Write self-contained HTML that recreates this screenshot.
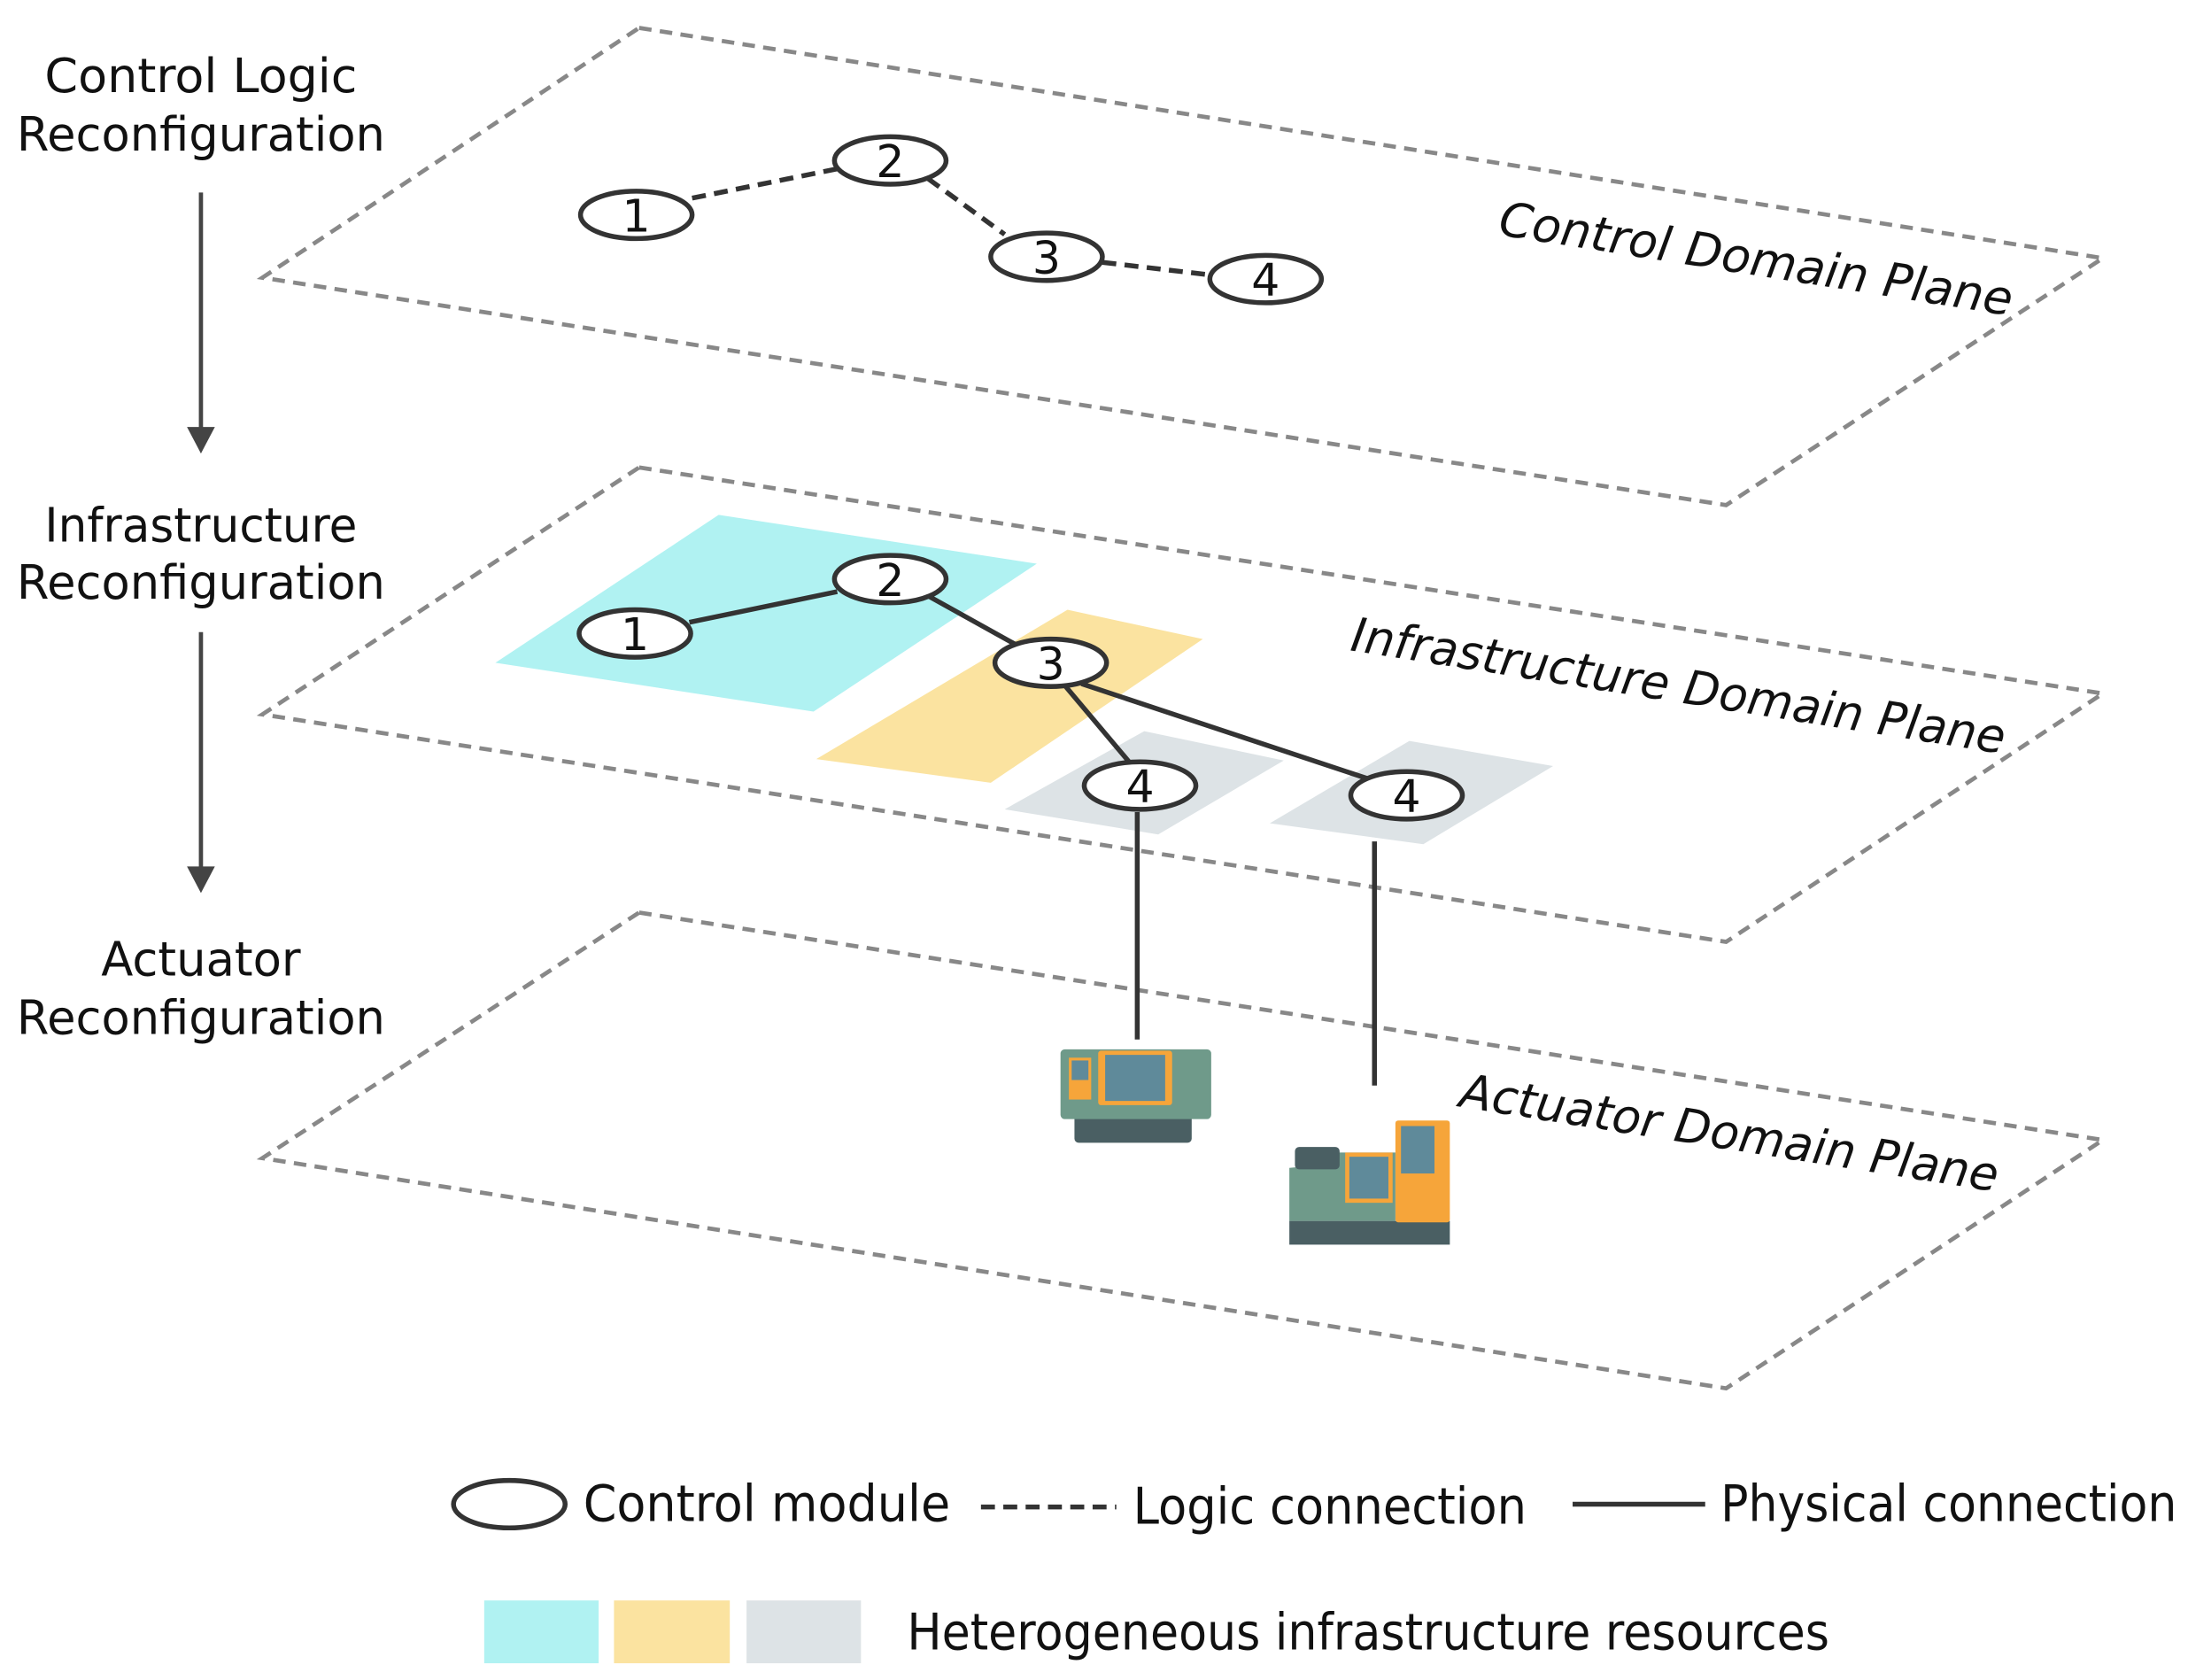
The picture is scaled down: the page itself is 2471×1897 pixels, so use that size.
<!DOCTYPE html>
<html><head><meta charset="utf-8"><style>
html,body{margin:0;padding:0;background:#fff;}
svg{display:block;}
text{font-family:"DejaVu Sans","Liberation Sans",sans-serif;fill:#111;}
</style></head><body>
<svg width="2471" height="1897" viewBox="0 0 1568 1204" preserveAspectRatio="none" xmlns="http://www.w3.org/2000/svg">
<g fill="none" stroke="#888" stroke-width="3" stroke-dasharray="9,6">
<polygon points="458,20 1507,185 1237,362 188,199"/>
<polygon points="458,335 1507,497 1237,675 188,512"/>
<polygon points="458,654 1507,817 1237,995 188,830"/>
</g>
<polygon points="515,369 743,404 583,510 355,475" fill="#b0f2f2"/>
<polygon points="765,437 862,458 710,561 585,544" fill="#fbe3a0"/>
<polygon points="820,524 920,545 830,598 720,580" fill="#dde3e6"/>
<polygon points="1010,531 1113,549 1020,605 910,590" fill="#dde3e6"/>
<g stroke="#333" stroke-width="3.5" fill="none">
<g stroke-dasharray="10,6">
<line x1="496" y1="142" x2="600" y2="121"/><line x1="665" y1="128" x2="720" y2="168"/><line x1="790" y1="188" x2="867" y2="197"/>
</g>
<line x1="494" y1="446" x2="600" y2="424"/><line x1="665" y1="427" x2="728" y2="462"/>
<line x1="762" y1="490" x2="810" y2="547"/><line x1="775" y1="490" x2="980" y2="558"/>
<line x1="815" y1="582" x2="815" y2="745"/><line x1="985" y1="603" x2="985" y2="778"/>
</g>
<g stroke="#333" stroke-width="3.5" fill="#fff">
<ellipse cx="456" cy="154" rx="40" ry="17"/><ellipse cx="638" cy="115" rx="40" ry="17"/>
<ellipse cx="750" cy="184" rx="40" ry="17"/><ellipse cx="907" cy="200" rx="40" ry="17"/>
<ellipse cx="455" cy="454" rx="40" ry="17"/><ellipse cx="638" cy="415" rx="40" ry="17"/>
<ellipse cx="753" cy="475" rx="40" ry="17"/><ellipse cx="817" cy="563" rx="40" ry="17"/>
<ellipse cx="1008" cy="570" rx="40" ry="17"/>
<ellipse cx="365" cy="1078" rx="40" ry="17"/>
</g>
<g font-size="32" text-anchor="middle">
<text x="456" y="166">1</text><text x="638" y="127">2</text><text x="750" y="196">3</text><text x="907" y="212">4</text>
<text x="455" y="466">1</text><text x="638" y="427">2</text><text x="753" y="487">3</text><text x="817" y="575">4</text><text x="1008" y="582">4</text>
</g>
<g font-size="34" text-anchor="middle" lengthAdjust="spacingAndGlyphs">
<text x="144" y="66" textLength="224" lengthAdjust="spacingAndGlyphs">Control Logic</text><text x="144" y="108" textLength="264" lengthAdjust="spacingAndGlyphs">Reconfiguration</text>
<text x="144" y="388" textLength="224" lengthAdjust="spacingAndGlyphs">Infrastructure</text><text x="144" y="429" textLength="264" lengthAdjust="spacingAndGlyphs">Reconfiguration</text>
<text x="144" y="699" textLength="143" lengthAdjust="spacingAndGlyphs">Actuator</text><text x="144" y="741" textLength="264" lengthAdjust="spacingAndGlyphs">Reconfiguration</text>
</g>
<g stroke="#444" stroke-width="3"><line x1="144" y1="138" x2="144" y2="310"/><line x1="144" y1="453" x2="144" y2="625"/></g>
<g fill="#444"><polygon points="134,306 154,306 144,325"/><polygon points="134,621 154,621 144,640"/></g>
<g font-size="34" font-style="italic">
<text x="1073" y="168" transform="rotate(9 1073 168)" textLength="372" lengthAdjust="spacingAndGlyphs">Control Domain Plane</text>
<text x="967" y="466" transform="rotate(9 967 466)" textLength="474" lengthAdjust="spacingAndGlyphs">Infrastructure Domain Plane</text>
<text x="1045" y="793" transform="rotate(9 1045 793)" textLength="390" lengthAdjust="spacingAndGlyphs">Actuator Domain Plane</text>
</g>
<!-- machine 1 -->
<rect x="770" y="795" width="84" height="24" rx="3" fill="#4a5f63"/>
<rect x="760" y="752" width="108" height="50" rx="3" fill="#6f9a8a"/>
<rect x="787" y="753" width="53" height="39" rx="2" fill="#f6a53a"/>
<rect x="792" y="756" width="43" height="33" fill="#5f8a9a"/>
<rect x="766" y="758" width="16" height="30" fill="#f6a53a"/>
<rect x="768" y="760" width="12" height="14" fill="#5f8a9a"/>
<!-- machine 2 -->
<rect x="924" y="875" width="115" height="17" fill="#4a5f63"/>
<rect x="1000" y="803" width="39" height="73" rx="2" fill="#f6a53a"/>
<rect x="1004" y="807" width="24" height="34" fill="#5f8a9a"/>
<polygon points="924,837 945,835 960,826 1000,826 1000,875 924,875" fill="#6f9a8a"/>
<rect x="928" y="822" width="32" height="16" rx="3" fill="#4a5f63"/>
<rect x="964" y="826" width="34" height="36" fill="#f6a53a"/>
<rect x="967" y="829" width="28" height="30" fill="#5f8a9a"/>
<!-- legend -->
<g font-size="36">
<text x="418" y="1090" textLength="263" lengthAdjust="spacingAndGlyphs">Control module</text>
<text x="812" y="1092" textLength="282" lengthAdjust="spacingAndGlyphs">Logic connection</text>
<text x="1233" y="1090" textLength="327" lengthAdjust="spacingAndGlyphs">Physical connection</text>
<text x="650" y="1182" textLength="661" lengthAdjust="spacingAndGlyphs">Heterogeneous infrastructure resources</text>
</g>
<line x1="703" y1="1080" x2="800" y2="1080" stroke="#333" stroke-width="3.5" stroke-dasharray="10,6"/>
<line x1="1127" y1="1078" x2="1222" y2="1078" stroke="#333" stroke-width="3.5"/>
<rect x="347" y="1147" width="82" height="45" fill="#b0f2f2"/>
<rect x="440" y="1147" width="83" height="45" fill="#fbe3a0"/>
<rect x="535" y="1147" width="82" height="45" fill="#dde3e6"/>
</svg>
</body></html>
